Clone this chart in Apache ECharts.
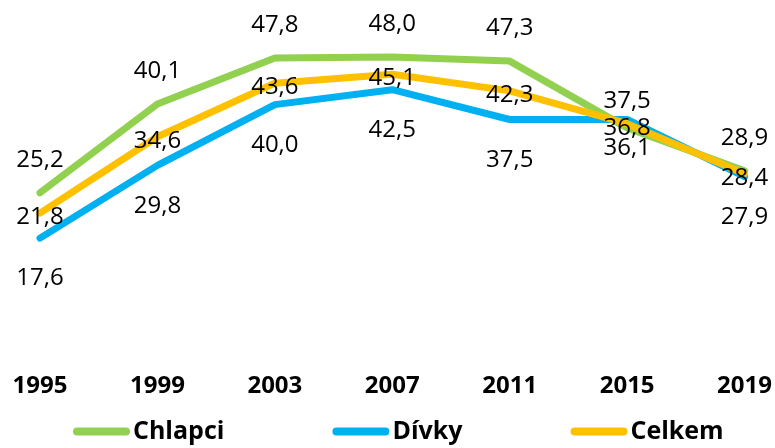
<!DOCTYPE html>
<html>
<head>
<meta charset="UTF-8">
<title>Chlapci, dívky, celkem</title>
<script src="https://cdn.jsdelivr.net/npm/echarts@6/dist/echarts.min.js"></script>
<style>
  html, body { margin: 0; padding: 0; background: #fff; }
  #main { width: 775px; height: 448px; }
</style>
</head>
<body>
<div id="main"></div>
<script type="text/javascript">
// roky a hodnoty
var years = ['1995', '1999', '2003', '2007', '2011', '2015', '2019'];
var chlapci = [25.2, 40.1, 47.8, 48.0, 47.3, 36.1, 28.9];
var divky = [17.6, 29.8, 40.0, 42.5, 37.5, 37.5, 27.9];
var celkem = [21.8, 34.6, 43.6, 45.1, 42.3, 36.8, 28.4];

var FONT = "'Open Sans', 'Noto Sans', sans-serif";

function fmt(v) {
  return v.toFixed(1).replace('.', ',');
}

// v roce 2015 jsou popisky chlapcu a divek prohozene
function makeData(values, special) {
  var out = [];
  for (var i = 0; i < values.length; i++) {
    var item = { value: values[i] };
    if (special && special[i]) item.label = special[i];
    out.push(item);
  }
  return out;
}

var chart = echarts.init(document.getElementById('main'));

var option = {
  animation: false,
  color: ['#92D050', '#00B0F0', '#FFC000'],
  grid: { left: 40, right: 30, top: 45, bottom: 105, containLabel: false },
  legend: {
    top: 419,
    left: 73,
    padding: 0,
    itemWidth: 57,
    itemHeight: 8,
    itemGap: 108,
    icon: 'path://M4,0 H53 A4,4 0 0 1 53,8 H4 A4,4 0 0 1 4,0 Z',
    textStyle: { fontFamily: FONT, fontWeight: 'bold', fontSize: 25, color: '#000', padding: [0, 0, 0, -2] },
    data: ['Chlapci', 'Dívky', 'Celkem']
  },
  xAxis: {
    type: 'category',
    data: years,
    boundaryGap: false,
    axisLine: { show: false },
    axisTick: { show: false },
    axisLabel: { margin: 31, fontFamily: FONT, fontWeight: 'bold', fontSize: 24, color: '#000' }
  },
  yAxis: {
    type: 'value',
    min: 0,
    max: 50,
    show: false,
    splitLine: { show: false }
  },
  series: [
    {
      name: 'Chlapci',
      type: 'line',
      symbol: 'circle',
      symbolSize: 1,
      lineStyle: { width: 7, cap: 'round', join: 'round' },
      label: {
        show: true, position: 'top', distance: 20,
        fontFamily: FONT, fontSize: 24, color: '#000',
        formatter: function (p) { return fmt(p.value); }
      },
      data: makeData(chlapci, { 5: { position: 'bottom', distance: 8 } })
    },
    {
      name: 'Dívky',
      type: 'line',
      symbol: 'circle',
      symbolSize: 1,
      lineStyle: { width: 7, cap: 'round', join: 'round' },
      label: {
        show: true, position: 'bottom', distance: 28,
        fontFamily: FONT, fontSize: 24, color: '#000',
        formatter: function (p) { return fmt(p.value); }
      },
      data: makeData(divky, { 5: { position: 'top', distance: 6 } })
    },
    {
      name: 'Celkem',
      type: 'line',
      symbol: 'circle',
      symbolSize: 1,
      lineStyle: { width: 7, cap: 'round', join: 'round' },
      label: {
        show: true, position: 'inside', offset: [0, 4],
        fontFamily: FONT, fontSize: 24, color: '#000',
        formatter: function (p) { return fmt(p.value); }
      },
      data: makeData(celkem)
    }
  ]
};

chart.setOption(option);
</script>
</body>
</html>
